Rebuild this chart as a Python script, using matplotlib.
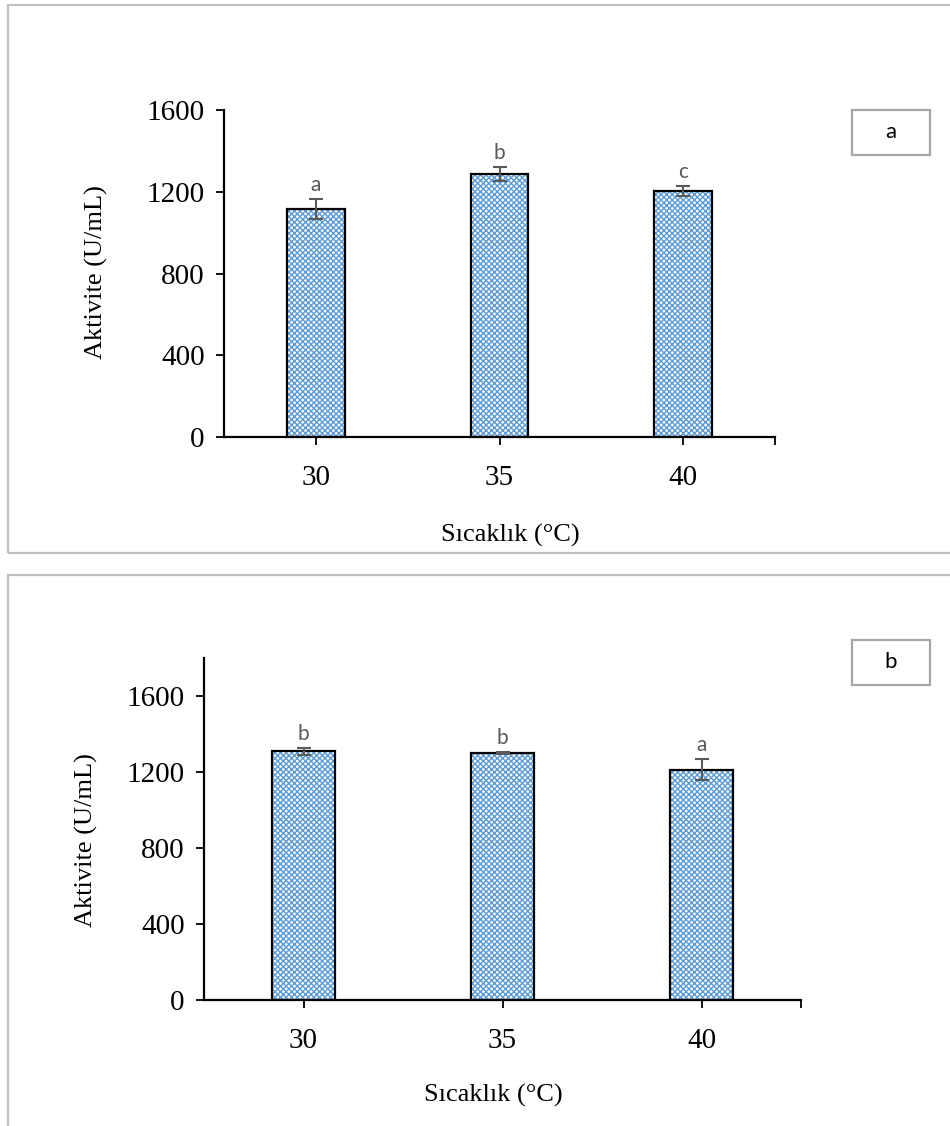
import matplotlib
matplotlib.use("Agg")
import matplotlib.pyplot as plt
from matplotlib.patches import Rectangle

# data
temps = ["30", "35", "40"]

act_a = [1115, 1287, 1204]
err_a = [50, 34, 24]
letters_a = ["a", "b", "c"]

act_b = [1308, 1299, 1213]
err_b = [20, 5, 57]
letters_b = ["b", "b", "a"]

W, H = 950, 1126
SERIF = "Liberation Serif"
SANS = "Lato"
BLUE = "#5b9bd5"
GREY = "#595959"

plt.rcParams["hatch.linewidth"] = 1.0

fig = plt.figure(figsize=(W / 100, H / 100), dpi=100)


def fx(px):
    return px / W


def fy(py):
    return 1 - py / H


def frame(x0, y0, x1, y1):
    fig.add_artist(Rectangle((fx(x0), fy(y1)), fx(x1) - fx(x0), fy(y0) - fy(y1),
                             transform=fig.transFigure, fill=False,
                             edgecolor="#c0c0c0", linewidth=1.6))


def tag_box(x0, y0, x1, y1, txt):
    fig.add_artist(Rectangle((fx(x0), fy(y1)), fx(x1) - fx(x0), fy(y0) - fy(y1),
                             transform=fig.transFigure, facecolor="white",
                             edgecolor="#a6a6a6", linewidth=1.6))
    fig.text(fx((x0 + x1) / 2), fy((y0 + y1) / 2), txt, ha="center", va="center",
             fontsize=16, family=SANS, color="black")


def panel(rect, vals, errs, letters, ymax):
    ax = fig.add_axes(rect)
    x = range(len(temps))
    # checker fill, then black outline on top
    ax.bar(x, vals, width=0.315, color="white", edgecolor=BLUE, hatch="xxxxxx",
           linewidth=0, zorder=2)
    ax.bar(x, vals, width=0.315, color="none", edgecolor="black", linewidth=1.6,
           zorder=3)
    ax.errorbar(x, vals, yerr=errs, fmt="none", ecolor=GREY, elinewidth=1.5,
                capsize=5, capthick=1.5, zorder=4)
    for i, (v, e, l) in enumerate(zip(vals, errs, letters)):
        ax.annotate(l, (i, v + e), xytext=(0, 3), textcoords="offset points",
                    ha="center", va="bottom", fontsize=15, family=SANS, color=GREY)

    ax.set_xlim(-0.5, 2.5)
    ax.set_ylim(0, ymax)
    ax.set_xticks(list(x))
    ax.set_xticklabels(temps)
    ax.set_xticks([2.5], minor=True)
    ax.set_yticks([0, 400, 800, 1200, 1600])
    for s in ["top", "right"]:
        ax.spines[s].set_visible(False)
    for s in ["left", "bottom"]:
        ax.spines[s].set_linewidth(1.6)
    ax.tick_params(axis="y", length=6, width=1.3, pad=8, labelsize=21)
    ax.tick_params(axis="x", which="both", length=6, width=1.3, pad=14, labelsize=21)
    for t in ax.get_xticklabels() + ax.get_yticklabels():
        t.set_family(SERIF)
    return ax


# panel a
frame(8, 5, 960, 553)
panel([fx(224), fy(437), fx(775) - fx(224), fy(110) - fy(437)],
      act_a, err_a, letters_a, 1600)
fig.text(fx(510), fy(535), "Sıcaklık (°C)", ha="center", va="center",
         fontsize=19, family=SERIF)
fig.text(fx(96), fy(272), "Aktivite (U/mL)", ha="center", va="center",
         rotation=90, fontsize=19, family=SERIF)
tag_box(852, 110, 930, 155, "a")

# panel b
frame(8, 575, 960, 1140)
panel([fx(204), fy(1000), fx(801) - fx(204), fy(658) - fy(1000)],
      act_b, err_b, letters_b, 1800)
fig.text(fx(493), fy(1095), "Sıcaklık (°C)", ha="center", va="center",
         fontsize=19, family=SERIF)
fig.text(fx(86), fy(840), "Aktivite (U/mL)", ha="center", va="center",
         rotation=90, fontsize=19, family=SERIF)
tag_box(852, 640, 930, 685, "b")

fig.savefig("out.png", dpi=100)
